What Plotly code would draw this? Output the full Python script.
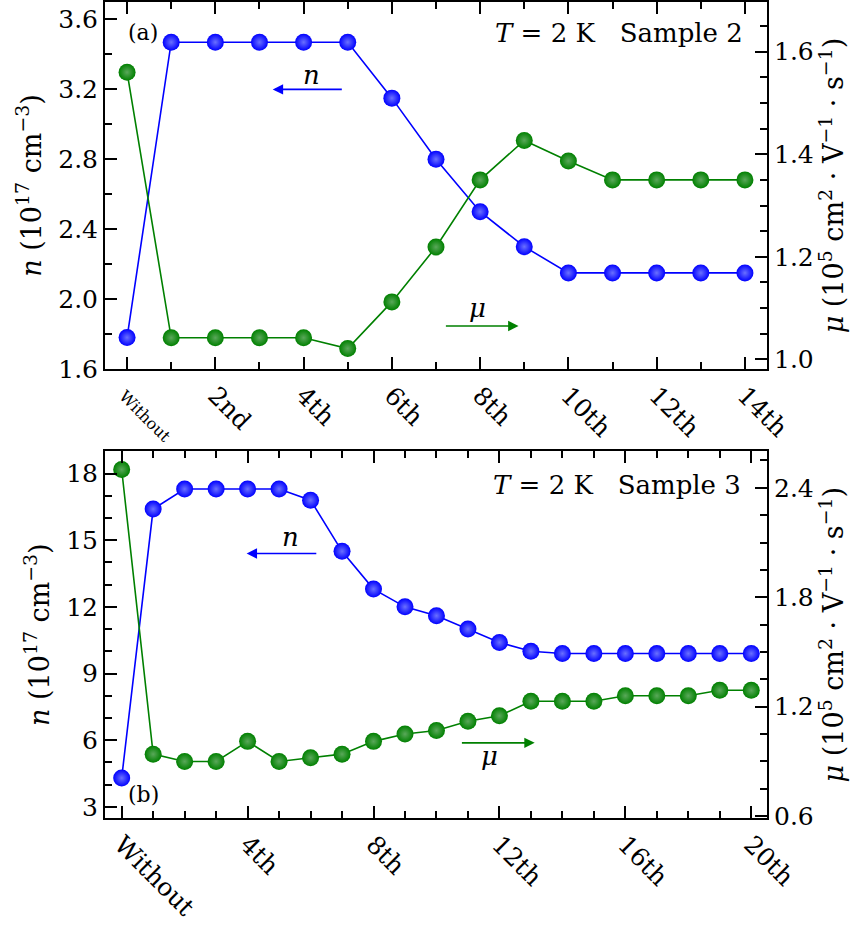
import plotly.graph_objects as go

# ---------------- data ----------------
# Panel (a): Sample 2
treat_a = ["Without", "1st", "2nd", "3rd", "4th", "5th", "6th", "7th", "8th",
           "9th", "10th", "11th", "12th", "13th", "14th"]
n_a = [1.78, 3.47, 3.47, 3.47, 3.47, 3.47, 3.15, 2.80, 2.50, 2.30, 2.15, 2.15, 2.15, 2.15, 2.15]
mu_a = [1.56, 1.042, 1.042, 1.042, 1.042, 1.021, 1.112, 1.219, 1.35, 1.427, 1.387, 1.35, 1.35, 1.35, 1.35]
ticks_a = ["Without", "2nd", "4th", "6th", "8th", "10th", "12th", "14th"]

# Panel (b): Sample 3
treat_b = ["Without"] + [f"{i}th" for i in range(1, 21)]
n_b = [4.3, 16.4, 17.3, 17.3, 17.3, 17.3, 16.8, 14.5, 12.8, 12.0, 11.6, 11.0, 10.4, 10.0,
       9.9, 9.9, 9.9, 9.9, 9.9, 9.9, 9.9]
mu_b = [2.50, 0.94, 0.90, 0.90, 1.01, 0.90, 0.92, 0.94, 1.01, 1.05, 1.07, 1.12, 1.15, 1.23,
        1.23, 1.23, 1.26, 1.26, 1.26, 1.29, 1.29]
ticks_b = ["Without", "4th", "8th", "12th", "16th", "20th"]

xa = list(range(len(treat_a)))
xb = list(range(len(treat_b)))

BLUE = "#0000ff"
GREEN = "#008000"
FONT = "DejaVu Serif"
TICK = 25
TITLE = 27
NB = "\u00a0"

def marker(col, light):
    return dict(size=17, color=col, line=dict(width=0),
                gradient=dict(type="radial", color=light))

fig = go.Figure()
fig.add_trace(go.Scatter(x=xa, y=n_a, mode="lines+markers", line=dict(color=BLUE, width=1.6),
                         marker=marker(BLUE, "#6a70ff"), xaxis="x", yaxis="y", showlegend=False))
fig.add_trace(go.Scatter(x=xa, y=mu_a, mode="lines+markers", line=dict(color=GREEN, width=1.6),
                         marker=marker(GREEN, "#5aa85a"), xaxis="x", yaxis="y2", showlegend=False))
fig.add_trace(go.Scatter(x=xb, y=n_b, mode="lines+markers", line=dict(color=BLUE, width=1.6),
                         marker=marker(BLUE, "#6a70ff"), xaxis="x2", yaxis="y3", showlegend=False))
fig.add_trace(go.Scatter(x=xb, y=mu_b, mode="lines+markers", line=dict(color=GREEN, width=1.6),
                         marker=marker(GREEN, "#5aa85a"), xaxis="x2", yaxis="y4", showlegend=False))

axis_common = dict(showline=True, linecolor="black", linewidth=2, ticks="inside",
                   ticklen=12, tickwidth=1.5, tickcolor="black", showgrid=False, zeroline=False,
                   automargin=False,
                   tickfont=dict(family=FONT, size=TICK, color="black"))
minor_common = dict(ticks="inside", ticklen=7, tickwidth=1.5, tickcolor="black", showgrid=False)

ttext_a = ['<span style="font-size:16px">Without</span>'] + ticks_a[1:]

n_title = "<i>n</i> (10<sup>17</sup> cm<sup>−3</sup>)"
mu_title = (f"<i>μ</i>{NB}(10<sup>5</sup>{NB}cm<sup>2</sup>{NB}·{NB}V<sup>−1</sup>"
            f"{NB}·{NB}s<sup>−1</sup>)")

fig.update_layout(
    width=859, height=938,
    margin=dict(l=105, r=92, t=2, b=120),
    paper_bgcolor="white", plot_bgcolor="white",
    font=dict(family=FONT, size=TICK, color="black"),
    xaxis=dict(axis_common, domain=[0, 1], anchor="y", range=[-0.5, 14.5], mirror="ticks",
               tickvals=[0, 2, 4, 6, 8, 10, 12, 14], ticktext=ttext_a, tickangle=45,
               minor=dict(minor_common, dtick=1, tick0=0)),
    yaxis=dict(axis_common, domain=[0.5502, 1.0], anchor="x", range=[1.6, 3.7],
               tickvals=[1.6, 2.0, 2.4, 2.8, 3.2, 3.6], ticktext=["1.6", "2.0", "2.4", "2.8", "3.2", "3.6"],
               minor=dict(minor_common, dtick=0.2, tick0=1.6),
               title=dict(text=n_title, standoff=9, font=dict(family=FONT, size=TITLE))),
    yaxis2=dict(axis_common, overlaying="y", side="right", anchor="x", range=[0.981, 1.697],
                tickvals=[1.0, 1.2, 1.4, 1.6], ticktext=["1.0", "1.2", "1.4", "1.6"],
                minor=dict(minor_common, dtick=0.05, tick0=1.0),
                title=dict(text=mu_title, standoff=9, font=dict(family=FONT, size=TITLE))),
    xaxis2=dict(axis_common, domain=[0, 1], anchor="y3", range=[-0.53, 20.5], mirror="ticks",
                tickvals=[0, 4, 8, 12, 16, 20], ticktext=ticks_b, tickangle=45,
                minor=dict(minor_common, dtick=1, tick0=0)),
    yaxis3=dict(axis_common, domain=[0.0, 0.4494], anchor="x2", range=[2.5, 19.0],
                tickvals=[3, 6, 9, 12, 15, 18],
                minor=dict(minor_common, dtick=1, tick0=0),
                title=dict(text=n_title, standoff=9, font=dict(family=FONT, size=TITLE))),
    yaxis4=dict(axis_common, overlaying="y3", side="right", anchor="x2", range=[0.59, 2.6],
                tickvals=[0.6, 1.2, 1.8, 2.4], ticktext=["0.6", "1.2", "1.8", "2.4"],
                minor=dict(minor_common, dtick=0.15, tick0=0.6),
                title=dict(text=mu_title, standoff=9, font=dict(family=FONT, size=TITLE))),
)

ann = []
C = dict(xanchor="center", yanchor="middle", showarrow=False)
# panel (a) texts
ann.append(dict(C, text="(a)", xref="x domain", yref="y domain", x=0.058, y=0.916,
                font=dict(family=FONT, size=22)))
ann.append(dict(text=f"<i>T</i>{NB}={NB}2{NB}K{NB}{NB}{NB}Sample{NB}2", xref="x domain", yref="y domain",
                x=0.967, y=0.916, xanchor="right", yanchor="middle", showarrow=False,
                font=dict(family=FONT, size=26)))
# panel (a) arrows
ann.append(dict(x=3.3, y=3.2, ax=4.9, ay=3.2, xref="x", yref="y", axref="x", ayref="y", text="",
                showarrow=True, arrowhead=2, arrowsize=1.3, arrowwidth=1.6, arrowcolor=BLUE))
ann.append(dict(C, text="<i>n</i>", x=4.19, y=3.28, xref="x", yref="y",
                font=dict(family=FONT, size=26)))
ann.append(dict(x=8.87, y=1.065, ax=7.19, ay=1.065, xref="x", yref="y2", axref="x", ayref="y2", text="",
                showarrow=True, arrowhead=2, arrowsize=1.3, arrowwidth=1.6, arrowcolor=GREEN))
ann.append(dict(C, text="<i>μ</i>", x=7.93, y=1.10, xref="x", yref="y2",
                font=dict(family=FONT, size=26)))
# panel (b) texts
ann.append(dict(C, text="(b)", xref="x2 domain", yref="y3 domain", x=0.058, y=0.0635,
                font=dict(family=FONT, size=22)))
ann.append(dict(text=f"<i>T</i>{NB}={NB}2{NB}K{NB}{NB}{NB}Sample{NB}3", xref="x2 domain", yref="y3 domain",
                x=0.964, y=0.908, xanchor="right", yanchor="middle", showarrow=False,
                font=dict(family=FONT, size=26)))
ann.append(dict(x=3.97, y=14.4, ax=6.23, ay=14.4, xref="x2", yref="y3", axref="x2", ayref="y3", text="",
                showarrow=True, arrowhead=2, arrowsize=1.3, arrowwidth=1.6, arrowcolor=BLUE))
ann.append(dict(C, text="<i>n</i>", x=5.37, y=15.13, xref="x2", yref="y3",
                font=dict(family=FONT, size=26)))
ann.append(dict(x=13.12, y=1.002, ax=10.76, ay=1.002, xref="x2", yref="y4", axref="x2", ayref="y4", text="",
                showarrow=True, arrowhead=2, arrowsize=1.3, arrowwidth=1.6, arrowcolor=GREEN))
ann.append(dict(C, text="<i>μ</i>", x=11.69, y=0.929, xref="x2", yref="y4",
                font=dict(family=FONT, size=26)))
fig.update_layout(annotations=ann)

fig.write_html("out.html", config={"displayModeBar": False},
               post_script="document.body.style.margin='0px';document.body.style.padding='0px';")
